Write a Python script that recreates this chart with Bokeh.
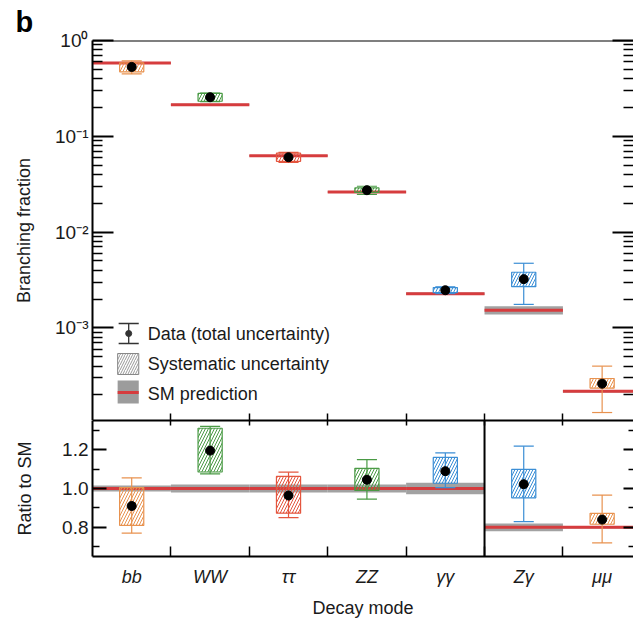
from bokeh.plotting import figure
from bokeh.layouts import column
from bokeh.models import (Range1d, LinearAxis, LogAxis, FixedTicker, ColumnDataSource,
                          Title, LinearScale, Span)
from bokeh.core.properties import value
from bokeh.embed import file_html
from bokeh.resources import INLINE

# ---------------- data ----------------
modes = ["bb", "WW", "ττ", "ZZ", "γγ", "Zγ", "μμ"]
sm_br = [0.582, 0.214, 0.0627, 0.0262, 0.00227, 0.00153, 0.000218]
sm_rel_unc = [0.015, 0.02, 0.02, 0.02, 0.03, 0.10, 0.03]
ratio = [0.91, 1.195, 0.964, 1.045, 1.089, 2.11, 1.20]
tot_lo = [0.77, 1.075, 0.85, 0.945, 1.004, 1.15, 0.60]
tot_hi = [1.055, 1.32, 1.084, 1.149, 1.183, 3.09, 1.83]
sys_lo = [0.81, 1.085, 0.873, 0.99, 1.027, 1.76, 1.08]
sys_hi = [1.005, 1.31, 1.062, 1.104, 1.16, 2.49, 1.36]
colors = ["#e8924f", "#4a9a45", "#e4563f", "#4a9a45", "#3b8ed5", "#3b8ed5", "#e8924f"]
left_group = [0, 1, 2, 3, 4]     # ratio on left scale
right_group = [5, 6]             # ratio on right scale

top_ticks = [1e-3, 1e-2, 1e-1, 1.0]
top_tick_labels = ["10⁻³", "10⁻²", "10⁻¹", "10⁰"]
ratio_ticks = [0.8, 1.0, 1.2]
ratio_tick_labels = ["0.8", "1.0", "1.2"]
right_ratio_ticks = [1, 2, 3]
legend_labels = ["Data (total uncertainty)", "Systematic uncertainty", "SM prediction"]

FONT = "Liberation Sans"
RED = "#d63c3e"
GRAY = "#a2a2a2"
BOX_HW = 0.154
CAP_HW = 0.128
idx = list(range(len(modes)))
bounds = [i + 0.5 for i in idx[:-1]]
Y_TOP_MIN, Y_TOP_MAX = 1.08e-4, 1.0


def make_src(ids, scale_sm):
    d = dict(x=[], left=[], right=[], bl=[], br=[], cl=[], cr=[], color=[],
             sm=[], sm_lo=[], sm_hi=[], y=[], tlo=[], thi=[], slo=[], shi=[])
    for i in ids:
        s = sm_br[i] if scale_sm else 1.0
        u = sm_rel_unc[i]
        d["x"].append(i); d["left"].append(i - 0.5); d["right"].append(i + 0.5)
        d["bl"].append(i - BOX_HW); d["br"].append(i + BOX_HW)
        d["cl"].append(i - CAP_HW); d["cr"].append(i + CAP_HW)
        d["color"].append(colors[i])
        d["sm"].append(s); d["sm_lo"].append(s * (1 - u)); d["sm_hi"].append(s * (1 + u))
        d["y"].append(s * ratio[i])
        d["tlo"].append(s * tot_lo[i]); d["thi"].append(s * tot_hi[i])
        d["slo"].append(s * sys_lo[i]); d["shi"].append(s * sys_hi[i])
    return ColumnDataSource(d)


def draw_points(p, src, yname="default"):
    kw = {} if yname == "default" else {"y_range_name": yname}
    p.quad(left="left", right="right", bottom="sm_lo", top="sm_hi", source=src,
           fill_color=GRAY, line_color=None, **kw)
    p.segment(x0="left", x1="right", y0="sm", y1="sm", source=src,
              line_color=RED, line_width=3, **kw)
    p.quad(left="bl", right="br", bottom="slo", top="shi", source=src,
           fill_color=None, line_color="color", line_width=1.2,
           hatch_pattern="/", hatch_color="color", hatch_scale=6, hatch_weight=1, **kw)
    p.segment(x0="x", x1="x", y0="tlo", y1="thi", source=src, line_color="color", line_width=1.2, **kw)
    p.segment(x0="cl", x1="cr", y0="tlo", y1="tlo", source=src, line_color="color", line_width=1.2, **kw)
    p.segment(x0="cl", x1="cr", y0="thi", y1="thi", source=src, line_color="color", line_width=1.2, **kw)
    p.scatter(x="x", y="y", source=src, size=9, fill_color="black", line_color="black", **kw)


def style_axis(ax, maj_in, min_in, font_size="19px", standoff=4, line=False):
    ax.axis_line_color = "black" if line else None
    ax.axis_line_width = 2
    ax.major_tick_in = maj_in
    ax.major_tick_out = 0
    ax.minor_tick_in = min_in
    ax.minor_tick_out = 0
    ax.major_tick_line_width = 2
    ax.minor_tick_line_width = 1.5
    ax.major_tick_line_color = "black"
    ax.minor_tick_line_color = "black"
    ax.major_label_text_font = FONT
    ax.major_label_text_font_size = font_size
    ax.major_label_text_color = "#1a1a1a"
    ax.major_label_standoff = standoff
    ax.axis_label_text_font = FONT
    ax.axis_label_text_font_size = "18px"
    ax.axis_label_text_font_style = "normal"
    ax.axis_label_text_color = "#1a1a1a"


XR = Range1d(-0.5, 6.40)

# ---------------- top panel ----------------
top = figure(width=633, height=420, y_axis_type="log", x_range=XR,
             y_range=Range1d(Y_TOP_MIN, Y_TOP_MAX), x_axis_location=None, y_axis_location=None,
             output_backend="svg", toolbar_location=None,
             min_border_left=92, min_border_right=0, min_border_top=40, min_border_bottom=0)
top.extra_x_ranges = {"px": Range1d(0, 538)}
top.extra_y_ranges = {"py": Range1d(380, 0)}
top.extra_y_scales = {"py": LinearScale()}
top.grid.visible = False
top.outline_line_color = None

ttl = Title(text="b", align="left", offset=-77, text_font=FONT, text_font_size="29px",
            text_font_style="bold", text_color="black", standoff=6)
top.add_layout(ttl, "above")
# frame top line
top.add_layout(Span(location=Y_TOP_MAX, dimension="width", line_color="black", line_width=2))

minor_log = []
for d in [1e-4, 1e-3, 1e-2, 1e-1]:
    for k in range(2, 10):
        if k * d >= Y_TOP_MIN:
            minor_log.append(k * d)

yl = LogAxis(ticker=FixedTicker(ticks=top_ticks, minor_ticks=minor_log),
             major_label_overrides=dict(zip(top_ticks, top_tick_labels)),
             axis_label="Branching fraction")
style_axis(yl, 21, 10, line=True)
yl.axis_label_standoff = 18
top.add_layout(yl, "left")

yr = LogAxis(ticker=FixedTicker(ticks=top_ticks, minor_ticks=minor_log),
             major_label_overrides={t: "" for t in top_ticks})
style_axis(yr, 21, 10, standoff=0)
top.add_layout(yr, "right")

xb = LinearAxis(ticker=FixedTicker(ticks=[], minor_ticks=bounds))
style_axis(xb, 0, 7, standoff=0, line=True)
top.add_layout(xb, "below")

draw_points(top, make_src(idx, True))

# legend (pixel coordinates inside frame)
lx = "px"; ly = "py"
top.segment(x0=[36], x1=[36], y0=[283], y1=[303], x_range_name=lx, y_range_name=ly,
            line_color="#333333", line_width=1.3)
top.segment(x0=[26, 26], x1=[46, 46], y0=[283, 303], y1=[283, 303], x_range_name=lx,
            y_range_name=ly, line_color="#333333", line_width=1.3)
top.scatter(x=[36], y=[293], size=6, fill_color="#333333", line_color="#333333",
            x_range_name=lx, y_range_name=ly)
top.quad(left=[25], right=[46], top=[313], bottom=[334], x_range_name=lx, y_range_name=ly,
         fill_color=None, line_color="#888888", line_width=1, hatch_pattern="/",
         hatch_color="#999999", hatch_scale=5, hatch_weight=1)
top.quad(left=[25], right=[46], top=[340], bottom=[363], x_range_name=lx, y_range_name=ly,
         fill_color="#9c9c9c", line_color=None)
top.segment(x0=[25], x1=[46], y0=[352], y1=[352], x_range_name=lx, y_range_name=ly,
            line_color=RED, line_width=3)
top.text(x=[55, 55, 55], y=[293, 323, 353], text=legend_labels, x_range_name=lx, y_range_name=ly,
         text_font=value(FONT), text_font_size="18px", text_color="#1a1a1a",
         text_baseline="middle", text_align="left")

# ---------------- bottom panel ----------------
bot = figure(width=633, height=201, x_range=XR, y_range=Range1d(0.65, 1.35),
             x_axis_location=None, y_axis_location=None,
             output_backend="svg", toolbar_location=None,
             min_border_left=92, min_border_right=0, min_border_top=0, min_border_bottom=65)
bot.extra_y_ranges = {"r": Range1d(0.25, 3.75)}
bot.grid.visible = False
bot.outline_line_color = None

bl_ax = LinearAxis(ticker=FixedTicker(ticks=ratio_ticks, minor_ticks=[0.7, 0.9, 1.1, 1.3]),
                   major_label_overrides=dict(zip(ratio_ticks, ratio_tick_labels)),
                   axis_label="Ratio to SM")
style_axis(bl_ax, 14, 7, line=True)
bl_ax.axis_label_standoff = 24
bot.add_layout(bl_ax, "left")

br_ax = LinearAxis(y_range_name="r",
                   ticker=FixedTicker(ticks=right_ratio_ticks, minor_ticks=[0.5, 1.5, 2.5, 3.5]),
                   major_label_overrides={t: "" for t in right_ratio_ticks})
style_axis(br_ax, 10, 5, standoff=0)
bot.add_layout(br_ax, "right")

bx = LinearAxis(ticker=FixedTicker(ticks=idx, minor_ticks=bounds),
                major_label_overrides=dict(zip(idx, modes)), axis_label="Decay mode")
style_axis(bx, 0, 10, font_size="18px", standoff=10, line=True)
bx.major_label_text_font_style = "italic"
bx.axis_label_standoff = 8
bot.add_layout(bx, "below")

bt = LinearAxis(ticker=FixedTicker(ticks=[], minor_ticks=bounds))
style_axis(bt, 0, 5, standoff=0, line=True)
bot.add_layout(bt, "above")

draw_points(bot, make_src(left_group, False))
draw_points(bot, make_src(right_group, False), yname="r")
bot.add_layout(Span(location=4.5, dimension="height", line_color="black", line_width=2))

layout = column(top, bot, spacing=0)
open("out.html", "w").write(file_html(layout, INLINE))
